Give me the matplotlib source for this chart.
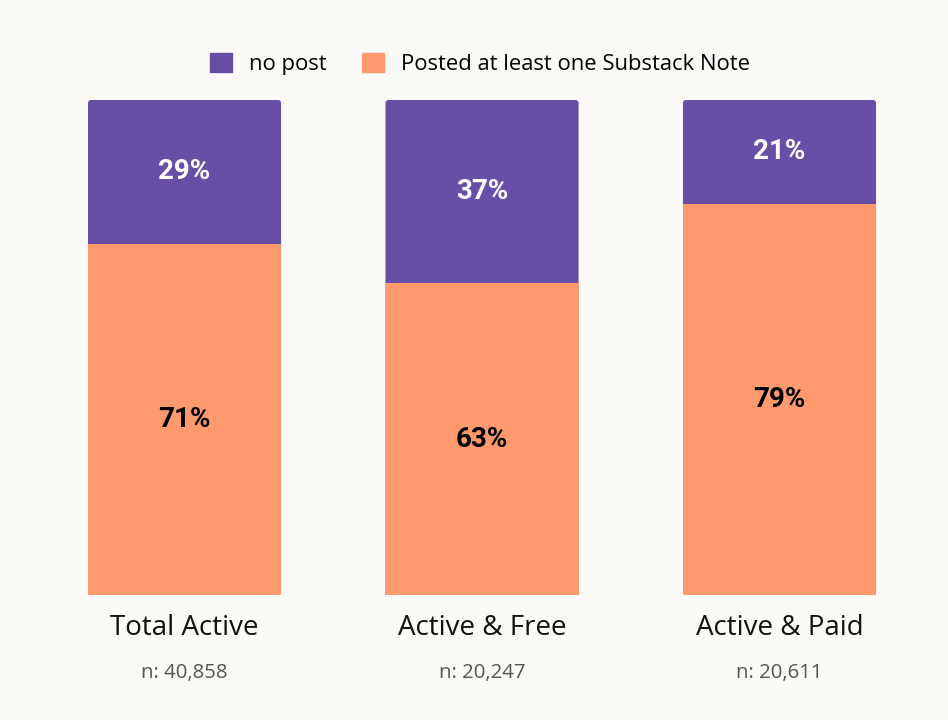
import matplotlib.pyplot as plt
from matplotlib.patches import Patch, FancyBboxPatch

# data
categories = ["Total Active", "Active & Free", "Active & Paid"]
n_labels = ["n: 40,858", "n: 20,247", "n: 20,611"]
posted = [71, 63, 79]
no_post = [29, 37, 21]

bg = "#FCFAF7"
purple = "#674FA7"
orange = "#FF9A6E"
w = 0.649

fig = plt.figure(figsize=(9.48, 7.2), dpi=100, facecolor=bg)
ax = fig.add_axes([20.9 / 948, 125 / 720, 922.25 / 948, 495 / 720])
ax.set_facecolor(bg)

x = range(len(categories))
# purple drawn as a full rounded column, orange stacked over its lower part
for i in x:
    top = posted[i] + no_post[i]
    ax.add_patch(FancyBboxPatch((i - w / 2, 0), w, top,
                                boxstyle="round,pad=0,rounding_size=0.01",
                                mutation_aspect=60, color=purple, lw=0))
ax.bar(x, posted, width=w, color=orange)

for i in x:
    ax.text(i, posted[i] / 2, f"{posted[i]}%", ha="center", va="center",
            fontsize=20, fontweight="bold", family="Roboto", color="black")
    ax.text(i, posted[i] + no_post[i] / 2, f"{no_post[i]}%", ha="center", va="center",
            fontsize=20, fontweight="bold", family="Roboto", color="white")
    ax.text(i, -6.7, categories[i], ha="center", va="center",
            fontsize=20, family="Open Sans", color="#111111")
    ax.text(i, -15.8, n_labels[i], ha="center", va="center",
            fontsize=14.7, family="Open Sans", color="#555555")

ax.set_xlim(-0.55, 2.55)
ax.set_ylim(0, 100)
ax.axis("off")

handles = [Patch(color=purple, label="no post"),
           Patch(color=orange, label="Posted at least one Substack Note")]
fig.legend(handles=handles, loc="center", bbox_to_anchor=(480 / 948, 1 - 64 / 720),
           ncol=2, frameon=False, prop={"family": "Open Sans", "size": 15.8},
           handlelength=1.0, handleheight=1.0, columnspacing=1.6, handletextpad=0.8)

fig.savefig("out.png", dpi=100, facecolor=bg)
